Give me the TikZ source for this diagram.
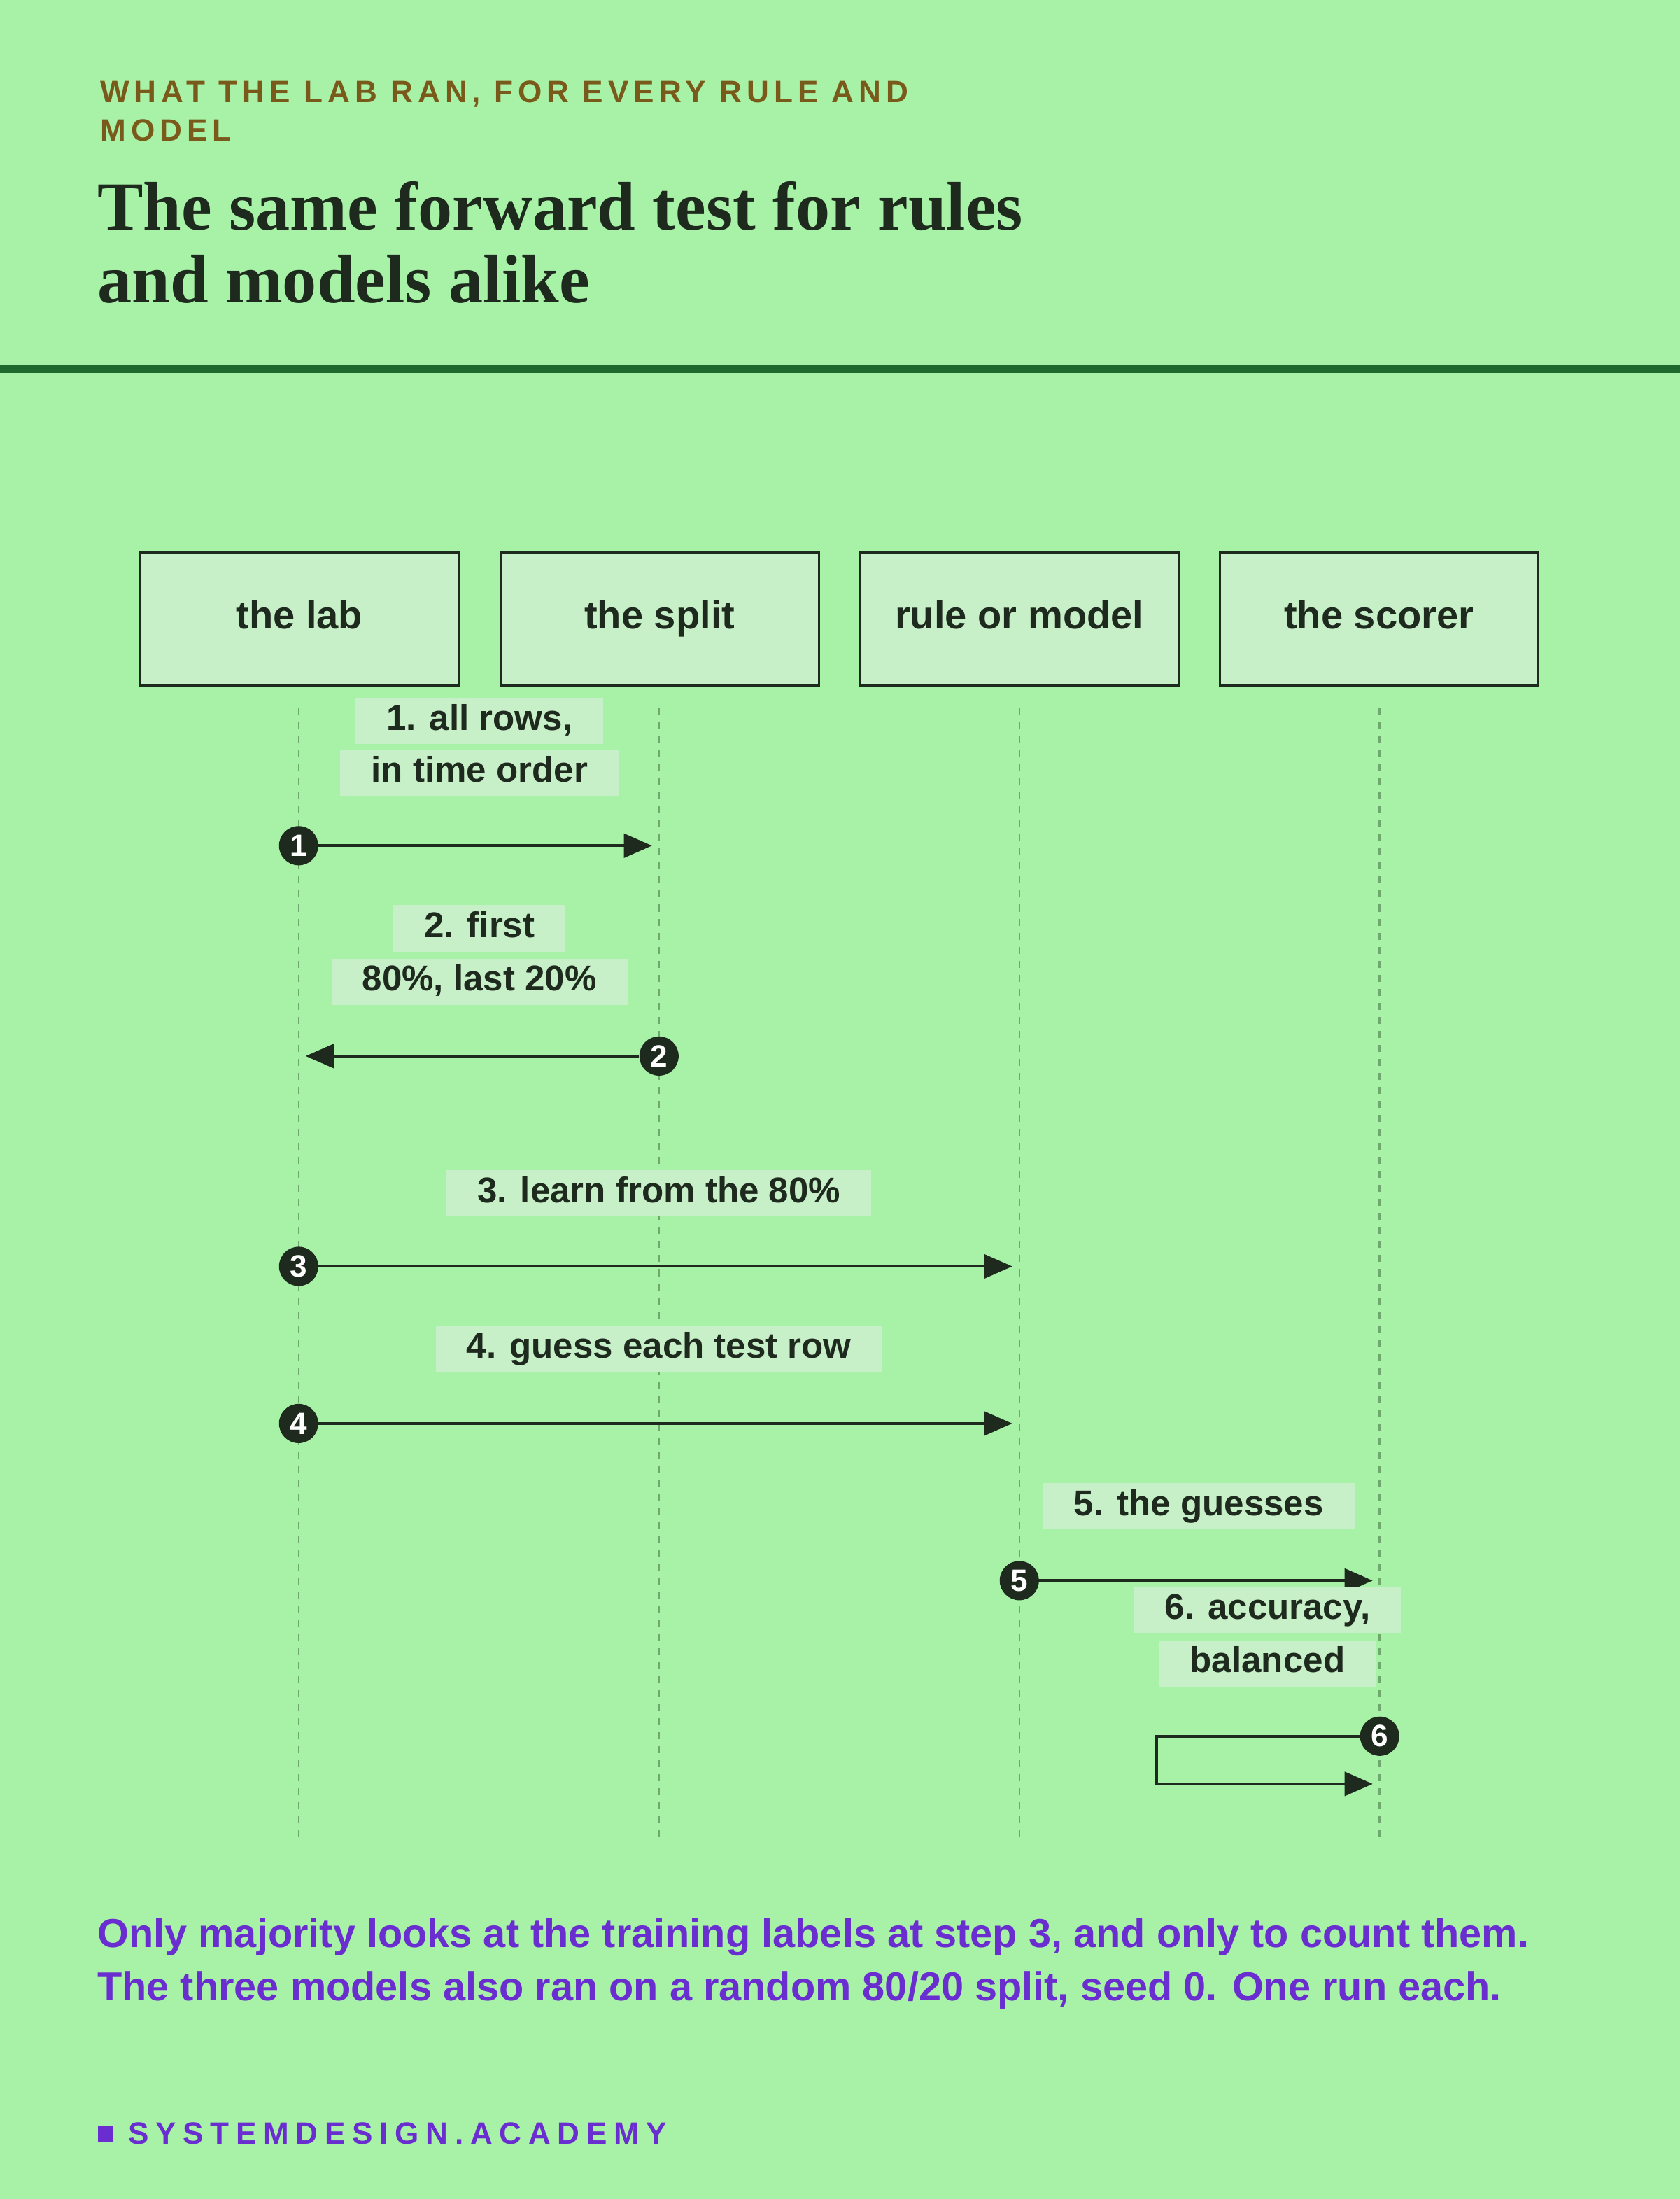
\documentclass[tikz,border=0pt]{standalone}
\usepackage{fontspec}
\setmainfont{Liberation Sans}
\newfontfamily\serifbf{Liberation Serif}
\newfontfamily\kick{Liberation Sans}[LetterSpace=16]
\newfontfamily\brandf{Liberation Sans}[LetterSpace=22]
\usetikzlibrary{arrows.meta}
\definecolor{bg}{HTML}{A8F2A8}
\definecolor{boxf}{HTML}{C8F0C8}
\definecolor{ink}{HTML}{1E2A1E}
\definecolor{brown}{HTML}{7A5A1A}
\definecolor{rulec}{HTML}{1E6A2E}
\definecolor{purp}{HTML}{6A2ED0}
\definecolor{life}{HTML}{6FA86F}
\begin{document}
\begin{tikzpicture}[x=1pt,y=-1pt,
 actor/.style={draw=ink,line width=1.5pt,fill=boxf,minimum width=227pt,minimum height=95pt,text height=20pt,text depth=6pt,font=\fontsize{28}{32}\selectfont\bfseries,text=ink},
 lbl/.style={fill=boxf,inner xsep=22pt,inner ysep=5pt,text height=18pt,text depth=5pt,font=\fontsize{25.5}{28}\selectfont\bfseries,text=ink},
 num/.style={circle,fill=ink,inner sep=0pt,minimum size=28pt,font=\fontsize{22}{22}\selectfont\bfseries,text=white},
 msg/.style={draw=ink,line width=2pt,-{Triangle[length=20pt,width=17pt]}},
 lifeline/.style={draw=life,line width=1.3pt,dash pattern=on 5pt off 5pt}]
\useasboundingbox (0,0) rectangle (1198,1568);
\fill[bg] (0,0) rectangle (1198,1568);
\node[anchor=west,text=brown,font=\kick\fontsize{22}{24}\selectfont\bfseries] (k1) at (68,67) {WHAT THE LAB RAN, FOR EVERY RULE AND};
\node[anchor=west,text=brown,font=\kick\fontsize{22}{24}\selectfont\bfseries] (k2) at (68,93) {MODEL};
\node[anchor=west,text=ink,font=\serifbf\fontsize{49}{52}\selectfont\bfseries] (t1) at (66,147) {The same forward test for rules};
\node[anchor=west,text=ink,font=\serifbf\fontsize{49}{52}\selectfont\bfseries] (t2) at (66,199) {and models alike};
\fill[rulec] (0,260) rectangle (1198,266);
\node[actor] (a) at (213.5,441.5) {the lab};
\node[actor] (b) at (470.5,441.5) {the split};
\node[actor] (c) at (727,441.5) {rule or model};
\node[actor] (d) at (983.5,441.5) {the scorer};
\foreach \n/\x in {a/213,b/470,c/727,d/984}{
 \coordinate (\n top) at (\x,505); \coordinate (\n bot) at (\x,1313);
 \draw[lifeline] (\n top) -- (\n bot);}
% 1
\node[lbl] (l1a) at (342,514) {1. all rows,};
\node[lbl] (l1b) at (342,551) {in time order};
\coordinate (e1) at (465,603);
\node[num] (n1) at (213,603) {1};
\draw[msg] (n1) -- (e1);
% 2
\node[lbl] (l2a) at (342,662) {2. first};
\node[lbl] (l2b) at (342,700) {80\%, last 20\%};
\coordinate (e2) at (218,753);
\node[num] (n2) at (470,753) {2};
\draw[msg] (n2) -- (e2);
% 3
\node[lbl] (l3) at (470,851) {3. learn from the 80\%};
\coordinate (e3) at (722,903);
\node[num] (n3) at (213,903) {3};
\draw[msg] (n3) -- (e3);
% 4
\node[lbl] (l4) at (470,962) {4. guess each test row};
\coordinate (e4) at (722,1015);
\node[num] (n4) at (213,1015) {4};
\draw[msg] (n4) -- (e4);
% 5
\node[lbl] (l5) at (855,1074) {5. the guesses};
\coordinate (e5) at (979,1127);
\node[num] (n5) at (727,1127) {5};
\draw[msg] (n5) -- (e5);
% 6
\node[lbl] (l6a) at (904,1148) {6. accuracy,};
\node[lbl] (l6b) at (904,1186) {balanced};
\coordinate (e6) at (979,1272);
\node[num] (n6) at (984,1238) {6};
\draw[msg] (n6) -- (825,1238) -- (825,1272) -- (e6);
% notes
\node[anchor=west,text=purp,font=\fontsize{28.8}{31}\selectfont\bfseries] (f1) at (66,1381) {Only majority looks at the training labels at step 3, and only to count them.};
\node[anchor=west,text=purp,font=\fontsize{28.8}{31}\selectfont\bfseries] (f2) at (66,1419) {The three models also ran on a random 80/20 split, seed 0. One run each.};
\fill[purp] (70,1516) rectangle (81,1527);
\node[anchor=west,text=purp,font=\brandf\fontsize{22}{24}\selectfont\bfseries] (brand) at (88,1521) {SYSTEMDESIGN.ACADEMY};
\end{tikzpicture}
\end{document}
